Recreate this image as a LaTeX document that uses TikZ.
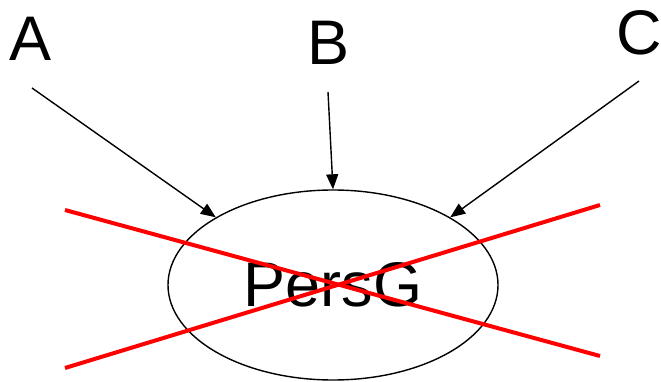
\documentclass[tikz,border=0pt]{standalone}
\usepackage{fontspec}
\setmainfont{Liberation Sans}
\usetikzlibrary{shapes.geometric,arrows.meta}
\begin{document}
\begin{tikzpicture}[x=1pt,y=-1pt,
  lbl/.style={inner sep=0pt,font=\fontsize{63}{70}\selectfont},
  arr/.style={line width=1.4pt,-{Triangle[length=15pt,width=12pt]}},
  cross/.style={draw=red,line width=4pt}]
\useasboundingbox (0,0) rectangle (661,382);
\node[lbl] (A) at (31,39) {A};
\node[lbl] (B) at (329,43) {B};
\node[lbl] (C) at (639,33) {C};
\node[ellipse,draw,line width=1.4pt,minimum width=330pt,minimum height=190pt,inner sep=0pt,
  font=\fontsize{63}{70}\selectfont] (e) at (333,285) {PersG};
\coordinate (a1) at (32,88);
\coordinate (b1) at (328,92);
\coordinate (c1) at (639,81);
\draw[arr] (a1) -- (e.150);
\draw[arr] (b1) -- (e.north);
\draw[arr] (c1) -- (e.30);
\coordinate (r1) at (65,210);
\coordinate (r2) at (600,356);
\coordinate (r3) at (65,368);
\coordinate (r4) at (600,205);
\draw[cross] (r1) -- (r2);
\draw[cross] (r3) -- (r4);
\end{tikzpicture}
\end{document}
